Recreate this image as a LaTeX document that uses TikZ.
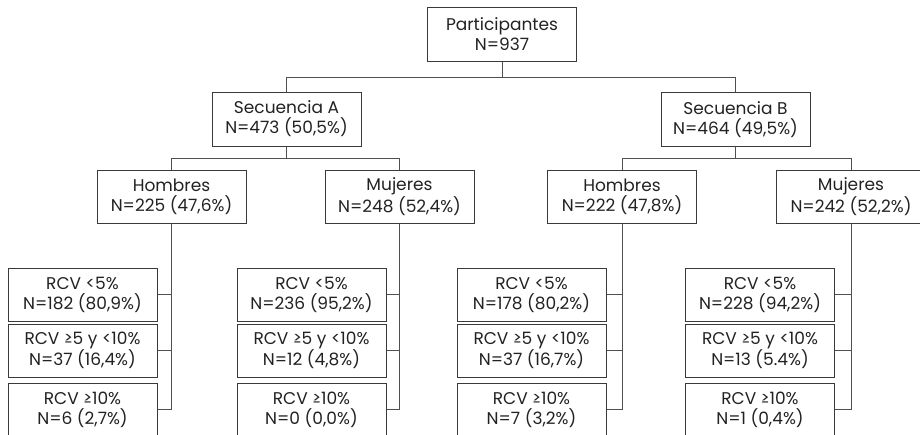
\documentclass[tikz,border=0pt]{standalone}
\usepackage{fontspec}
\setmainfont{Poppins}
\newfontfamily\symfont{DejaVu Sans}
\newcommand{\gesym}{\iffontchar\font"2265 \char"2265 \else{\symfont\char"2265}\fi}
\definecolor{boxline}{HTML}{3A3A3A}
\definecolor{conline}{HTML}{505050}
\definecolor{txt}{HTML}{222222}
\tikzset{
  box/.style={draw=boxline, line width=1pt, minimum width=149pt, minimum height=53pt,
    inner sep=0pt, align=center, text=txt, font=\fontsize{17}{20}\selectfont},
  conn/.style={draw=conline, line width=1pt}
}
\begin{document}
\begin{tikzpicture}[x=1pt,y=-1pt]
\useasboundingbox (0,0) rectangle (920,434);
\clip (0,0) rectangle (920,434);
% level 0
\node[box, minimum height=54pt] (P) at (502,34) {Participantes\\N=937};
% level 1
\node[box, minimum height=54pt] (SA) at (286.5,119) {Secuencia A\\N=473 (50,5\%)};
\node[box, minimum height=54pt] (SB) at (735.5,119.5) {Secuencia B\\N=464 (49,5\%)};
% level 2
\node[box] (HA) at (171.5,196.5) {Hombres\\N=225 (47,6\%)};
\node[box] (MA) at (399.5,196.5) {Mujeres\\N=248 (52,4\%)};
\node[box] (HB) at (622,196.5) {Hombres\\N=222 (47,8\%)};
\node[box] (MB) at (851,196.5) {Mujeres\\N=242 (52,2\%)};
% level 3
\node[box] (HA1) at (82.5,294.5) {RCV <5\%\\N=182 (80,9\%)};
\node[box] (HA2) at (82.5,350.5) {RCV \gesym5 y <10\%\\N=37 (16,4\%)};
\node[box] (HA3) at (82.5,409.5) {RCV \gesym10\%\\N=6 (2,7\%)};
\node[box] (MA1) at (311.5,294.5) {RCV <5\%\\N=236 (95,2\%)};
\node[box] (MA2) at (311.5,350.5) {RCV \gesym5 y <10\%\\N=12 (4,8\%)};
\node[box] (MA3) at (311.5,409.5) {RCV \gesym10\%\\N=0 (0,0\%)};
\node[box] (HB1) at (531.5,294.5) {RCV <5\%\\N=178 (80,2\%)};
\node[box] (HB2) at (531.5,350.5) {RCV \gesym5 y <10\%\\N=37 (16,7\%)};
\node[box] (HB3) at (531.5,409.5) {RCV \gesym10\%\\N=7 (3,2\%)};
\node[box] (MB1) at (760,294.5) {RCV <5\%\\N=228 (94,2\%)};
\node[box] (MB2) at (760,350.5) {RCV \gesym5 y <10\%\\N=13 (5.4\%)};
\node[box] (MB3) at (760,409.5) {RCV \gesym10\%\\N=1 (0,4\%)};
% connectors
\draw[conn] (P.south) -- (P.south |- 0,77) -| (SA.north);
\draw[conn] (P.south |- 0,77) -| (SB.north);
\draw[conn] (SA.south) -- (SA.south |- 0,158) -| (HA.north);
\draw[conn] (SA.south |- 0,158) -| (MA.north);
\draw[conn] (SB.south) -- (SB.south |- 0,158) -| (HB.north);
\draw[conn] (SB.south |- 0,158) -| (MB.north);
\foreach \g in {HA,MA,HB,MB}{
  \draw[conn] (\g.south) -- (\g.south |- \g3.east) -- (\g3.east);
  \draw[conn] (\g.south |- \g1.east) -- (\g1.east);
  \draw[conn] (\g.south |- \g2.east) -- (\g2.east);
}
\end{tikzpicture}
\end{document}
